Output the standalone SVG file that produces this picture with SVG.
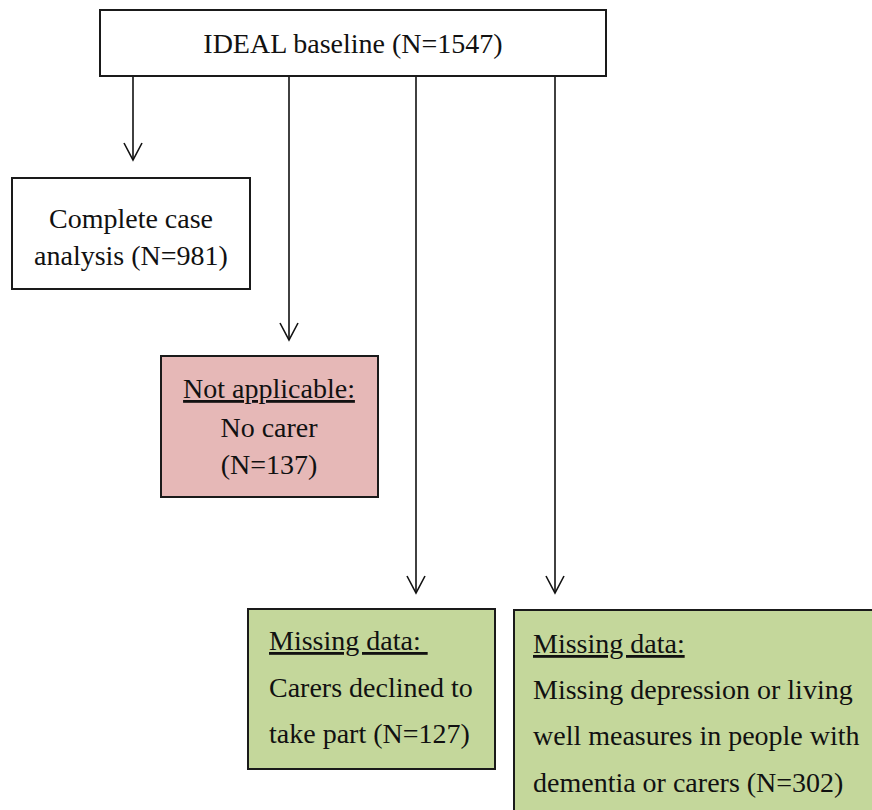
<svg xmlns="http://www.w3.org/2000/svg" width="872" height="810" viewBox="0 0 872 810">
<style>
text{font-family:"Liberation Serif","Times New Roman",serif;font-size:28px;fill:#111}
.c{text-anchor:middle}
.u{text-decoration:underline}
.box{stroke:#1a1a1a;stroke-width:2}
.w{fill:#fff}
.p{fill:#e6b8b7}
.g{fill:#c4d79b}
.ln{stroke:#111;stroke-width:1.6;fill:none}
</style>
<defs>
<marker id="ah" markerUnits="userSpaceOnUse" markerWidth="40" markerHeight="40" refX="0" refY="0" orient="auto" overflow="visible">
<path d="M-17,-9 L0,0 L-17,9" fill="none" stroke="#111" stroke-width="1.6"/>
</marker>
</defs>
<rect width="872" height="810" fill="#fff"/>
<g id="connectors">
<line class="ln" x1="133" y1="77" x2="133" y2="160" marker-end="url(#ah)"/>
<line class="ln" x1="289" y1="77" x2="289" y2="340" marker-end="url(#ah)"/>
<line class="ln" x1="416" y1="77" x2="416" y2="593" marker-end="url(#ah)"/>
<line class="ln" x1="555" y1="77" x2="555" y2="593" marker-end="url(#ah)"/>
</g>
<g id="baseline">
<rect class="box w" x="100" y="10" width="506" height="66"/>
<text class="c" x="353" y="53">IDEAL baseline (N=1547)</text>
</g>
<g id="complete">
<rect class="box w" x="12" y="178" width="238" height="111"/>
<text class="c" x="131" y="228">Complete case</text>
<text class="c" x="131" y="265">analysis (N=981)</text>
</g>
<g id="notapplicable">
<rect class="box p" x="161" y="356" width="217" height="141"/>
<text class="c u" x="269" y="398">Not applicable:</text>
<text class="c" x="269" y="437">No carer</text>
<text class="c" x="269" y="474">(N=137)</text>
</g>
<g id="declined">
<rect class="box g" x="248" y="609" width="247" height="160"/>
<text class="u" x="269" y="650">Missing data:&#160;</text>
<text x="269" y="697">Carers declined to</text>
<text x="269" y="743">take part (N=127)</text>
</g>
<g id="missing">
<rect class="box g" x="514" y="610" width="370" height="210"/>
<text class="u" x="533" y="653">Missing data:</text>
<text x="533" y="699">Missing depression or living</text>
<text x="533" y="745">well measures in people with</text>
<text x="533" y="792">dementia or carers (N=302)</text>
</g>
</svg>
